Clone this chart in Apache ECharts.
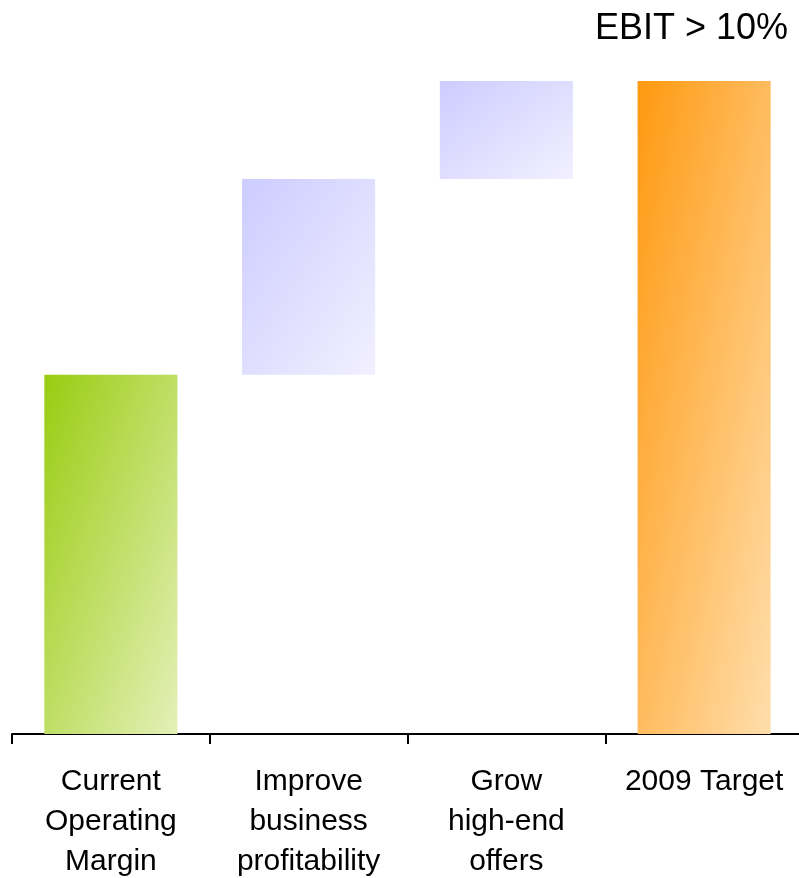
<!DOCTYPE html>
<html>
<head>
<meta charset="utf-8">
<script src="https://cdn.jsdelivr.net/npm/echarts@6/dist/echarts.min.js"></script>
<style>
html,body{margin:0;padding:0;background:#fff;overflow:hidden;}
#chart{width:803px;height:878px;}
</style>
</head>
<body>
<div id="chart"></div>
<script>
var categories = ['Current\nOperating\nMargin', 'Improve\nbusiness\nprofitability', 'Grow\nhigh-end\noffers', '2009 Target'];
var values = [5.5, 3.0, 1.5, 10];
var isTotal = [false, false, false, true];
var title = 'EBIT > 10%';
var colorStops = [
  ['#99cc11', '#e4f0b8'],
  ['#ccccff', '#f2f0ff'],
  ['#ccccff', '#f2f0ff'],
  ['#ff9910', '#ffdeac']
];

var base = [];
var run = 0;
for (var i = 0; i < values.length; i++) {
  if (isTotal[i]) { base.push(0); run = values[i]; }
  else { base.push(run); run += values[i]; }
}

// gradient with isolines along the anti-diagonal of the bar (shape-scaled diagonal)
function grad(c, w, h) {
  var t = 2 * w * h / (h * h + w * w);
  return new echarts.graphic.LinearGradient(0, 0, t * h / w, t * w / h, [
    { offset: 0, color: c[0] }, { offset: 1, color: c[1] }
  ]);
}

var chart = echarts.init(document.getElementById('chart'));
var BW = '67.3%';
function build(sizes) {
  return {
    animation: false,
    backgroundColor: '#ffffff',
    title: {
      text: title,
      right: 10,
      top: 6,
      textStyle: { fontFamily: 'Liberation Sans, Arial, sans-serif', fontSize: 36, fontWeight: 'normal', color: '#000' }
    },
    grid: { left: 12, right: 0, top: 81, bottom: 144, outerBoundsMode: 'none' },
    xAxis: {
      type: 'category',
      data: categories,
      axisLine: { lineStyle: { color: '#000', width: 2 } },
      axisTick: { show: true, length: 10, lineStyle: { color: '#000', width: 2 } },
      axisLabel: {
        interval: 0,
        margin: 28,
        fontFamily: 'Liberation Sans, Arial, sans-serif',
        fontSize: 30,
        lineHeight: 40,
        color: '#000'
      }
    },
    yAxis: { type: 'value', min: 0, max: 10, show: false },
    series: [
      { type: 'bar', stack: 'w', data: base, itemStyle: { color: 'transparent' }, barWidth: BW, silent: true },
      {
        type: 'bar', stack: 'w', barWidth: BW,
        data: values.map(function (v, i) {
          var s = sizes[i];
          return { value: v, itemStyle: { color: grad(colorStops[i], s[0], s[1]) } };
        })
      }
    ]
  };
}
chart.setOption(build(values.map(function () { return [1, 1]; })));
var sizes = values.map(function (v, i) {
  var p0 = chart.convertToPixel({ gridIndex: 0 }, [i, base[i]]);
  var p1 = chart.convertToPixel({ gridIndex: 0 }, [i, base[i] + v]);
  var bw = chart.convertToPixel({ xAxisIndex: 0 }, 1) - chart.convertToPixel({ xAxisIndex: 0 }, 0);
  return [bw * 0.673, Math.abs(p0[1] - p1[1])];
});
chart.setOption(build(sizes));
</script>
</body>
</html>
